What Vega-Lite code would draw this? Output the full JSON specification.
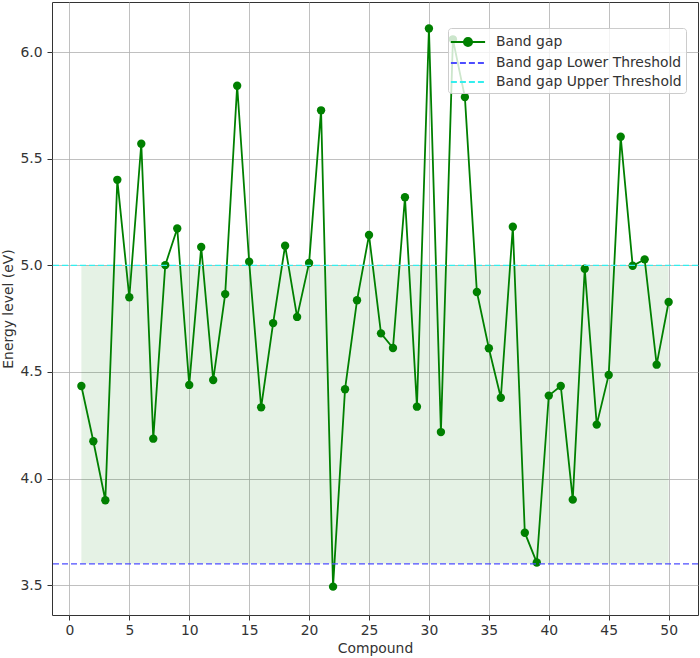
{
  "$schema": "https://vega.github.io/schema/vega-lite/v6.json",
  "width": 646,
  "height": 613,
  "autosize": {"type": "none"},
  "padding": {"left": 52, "top": 2, "right": 2, "bottom": 43},
  "background": "white",
  "config": {
    "font": "DejaVu Sans",
    "view": {"stroke": "#333333", "strokeWidth": 1},
    "axis": {
      "grid": true,
      "gridColor": "#b0b0b0",
      "gridWidth": 1,
      "gridOpacity": 0.8,
      "domain": false,
      "tickColor": "#333333",
      "tickSize": 5,
      "labelFontSize": 13.9,
      "labelColor": "#333333",
      "labelPadding": 3,
      "titleFontSize": 13.9,
      "titleFontWeight": "normal",
      "titleColor": "#333333"
    }
  },
  "datasets": {
    "bandgap": [
      {"compound": 1, "energy": 4.434, "series": "Band gap"},
      {"compound": 2, "energy": 4.175, "series": "Band gap"},
      {"compound": 3, "energy": 3.898, "series": "Band gap"},
      {"compound": 4, "energy": 5.401, "series": "Band gap"},
      {"compound": 5, "energy": 4.850, "series": "Band gap"},
      {"compound": 6, "energy": 5.570, "series": "Band gap"},
      {"compound": 7, "energy": 4.187, "series": "Band gap"},
      {"compound": 8, "energy": 5.001, "series": "Band gap"},
      {"compound": 9, "energy": 5.173, "series": "Band gap"},
      {"compound": 10, "energy": 4.439, "series": "Band gap"},
      {"compound": 11, "energy": 5.086, "series": "Band gap"},
      {"compound": 12, "energy": 4.462, "series": "Band gap"},
      {"compound": 13, "energy": 4.865, "series": "Band gap"},
      {"compound": 14, "energy": 5.842, "series": "Band gap"},
      {"compound": 15, "energy": 5.017, "series": "Band gap"},
      {"compound": 16, "energy": 4.334, "series": "Band gap"},
      {"compound": 17, "energy": 4.729, "series": "Band gap"},
      {"compound": 18, "energy": 5.092, "series": "Band gap"},
      {"compound": 19, "energy": 4.758, "series": "Band gap"},
      {"compound": 20, "energy": 5.011, "series": "Band gap"},
      {"compound": 21, "energy": 5.727, "series": "Band gap"},
      {"compound": 22, "energy": 3.493, "series": "Band gap"},
      {"compound": 23, "energy": 4.419, "series": "Band gap"},
      {"compound": 24, "energy": 4.836, "series": "Band gap"},
      {"compound": 25, "energy": 5.142, "series": "Band gap"},
      {"compound": 26, "energy": 4.681, "series": "Band gap"},
      {"compound": 27, "energy": 4.612, "series": "Band gap"},
      {"compound": 28, "energy": 5.319, "series": "Band gap"},
      {"compound": 29, "energy": 4.337, "series": "Band gap"},
      {"compound": 30, "energy": 6.111, "series": "Band gap"},
      {"compound": 31, "energy": 4.218, "series": "Band gap"},
      {"compound": 32, "energy": 6.060, "series": "Band gap"},
      {"compound": 33, "energy": 5.789, "series": "Band gap"},
      {"compound": 34, "energy": 4.875, "series": "Band gap"},
      {"compound": 35, "energy": 4.611, "series": "Band gap"},
      {"compound": 36, "energy": 4.379, "series": "Band gap"},
      {"compound": 37, "energy": 5.181, "series": "Band gap"},
      {"compound": 38, "energy": 3.746, "series": "Band gap"},
      {"compound": 39, "energy": 3.606, "series": "Band gap"},
      {"compound": 40, "energy": 4.389, "series": "Band gap"},
      {"compound": 41, "energy": 4.434, "series": "Band gap"},
      {"compound": 42, "energy": 3.901, "series": "Band gap"},
      {"compound": 43, "energy": 4.984, "series": "Band gap"},
      {"compound": 44, "energy": 4.253, "series": "Band gap"},
      {"compound": 45, "energy": 4.486, "series": "Band gap"},
      {"compound": 46, "energy": 5.603, "series": "Band gap"},
      {"compound": 47, "energy": 4.998, "series": "Band gap"},
      {"compound": 48, "energy": 5.028, "series": "Band gap"},
      {"compound": 49, "energy": 4.534, "series": "Band gap"},
      {"compound": 50, "energy": 4.828, "series": "Band gap"}
    ],
    "band": [
      {"start": 1, "end": 50, "lo": 3.6, "hi": 5.0}
    ],
    "thresholds": [
      {"series": "Band gap Lower Threshold", "value": 3.6},
      {"series": "Band gap Upper Threshold", "value": 5.0}
    ]
  },
  "layer": [
    {
      "data": {"name": "band"},
      "mark": {"type": "rect", "color": "green", "opacity": 0.1},
      "encoding": {
        "x": {"field": "start", "type": "quantitative",
              "scale": {"domain": [-1.45, 52.45], "nice": false, "zero": false},
              "axis": {"values": [0, 5, 10, 15, 20, 25, 30, 35, 40, 45, 50], "title": "Compound", "titlePadding": 5}},
        "x2": {"field": "end"},
        "y": {"field": "lo", "type": "quantitative",
              "scale": {"domain": [3.36, 6.235], "nice": false, "zero": false},
              "axis": {"values": [3.5, 4.0, 4.5, 5.0, 5.5, 6.0], "format": ".1f", "title": "Energy level (eV)", "titlePadding": 4, "labelPadding": 5}},
        "y2": {"field": "hi"}
      }
    },
    {
      "data": {"name": "bandgap"},
      "mark": {"type": "line", "strokeWidth": 1.8},
      "encoding": {
        "x": {"field": "compound", "type": "quantitative"},
        "y": {"field": "energy", "type": "quantitative"},
        "color": {
          "field": "series", "type": "nominal",
          "scale": {"domain": ["Band gap", "Band gap Lower Threshold", "Band gap Upper Threshold"],
                    "range": ["green", "#4d4dff", "#33eeee"]},
          "legend": {
            "orient": "none",
            "legendX": 396,
            "legendY": 26,
            "title": null,
            "symbolType": "stroke",
            "symbolSize": 324,
            "symbolStrokeWidth": 2,
            "symbolOffset": 6,
            "labelOffset": 18,
            "labelFontSize": 13.9,
            "labelLimit": 400,
            "labelColor": "#333333",
            "padding": 4,
            "rowPadding": 2,
            "fillColor": "rgba(255,255,255,0.8)",
            "strokeColor": "#cccccc",
            "cornerRadius": 3,
            "encode": {
              "symbols": {
                "update": {
                  "shape": {"signal": "datum.value === 'Band gap' ? 'M-1.9,0L1.9,0M0.45,0A0.45,0.45,0,1,1,-0.45,0A0.45,0.45,0,1,1,0.45,0Z' : 'M-1.9,0L1.9,0'"},
                  "fill": {"signal": "datum.value === 'Band gap' ? 'green' : 'transparent'"},
                  "strokeDash": {"signal": "datum.value === 'Band gap' ? [] : [6,3]"}
                }
              }
            }
          }
        }
      }
    },
    {
      "data": {"name": "bandgap"},
      "mark": {"type": "point", "filled": true, "shape": "circle", "size": 70, "color": "green", "opacity": 1},
      "encoding": {
        "x": {"field": "compound", "type": "quantitative"},
        "y": {"field": "energy", "type": "quantitative"}
      }
    },
    {
      "data": {"name": "thresholds"},
      "mark": {"type": "rule", "strokeWidth": 1.3, "strokeDash": [6, 3]},
      "encoding": {
        "y": {"field": "value", "type": "quantitative"},
        "color": {"field": "series", "type": "nominal"}
      }
    }
  ]
}
